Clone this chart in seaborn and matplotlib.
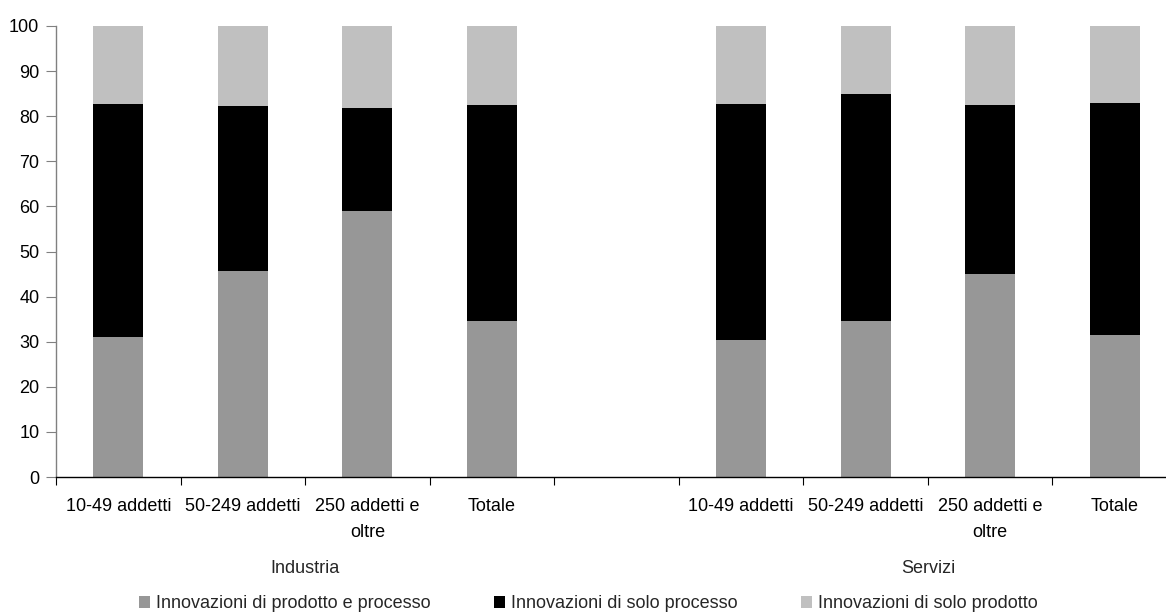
import matplotlib
matplotlib.use("Agg")
import matplotlib.pyplot as plt
import seaborn as sns
import pandas as pd
import numpy as np

# Sectors and firm-size classes
sectors = ["Industria", "Servizi"]
size_classes = ["10-49 addetti", "50-249 addetti", "250 addetti e\noltre", "Totale"]

# Shares (%) of innovating firms by type of innovation
prodotto_e_processo = {
    "Industria": [31.0, 45.7, 59.0, 34.6],
    "Servizi":   [30.4, 34.6, 45.0, 31.5],
}
solo_processo = {
    "Industria": [51.7, 36.6, 22.8, 47.9],
    "Servizi":   [52.3, 50.3, 37.5, 51.4],
}
solo_prodotto = {
    "Industria": [17.3, 17.7, 18.2, 17.5],
    "Servizi":   [17.3, 15.1, 17.5, 17.1],
}

series_names = [
    "Innovazioni di prodotto e processo",
    "Innovazioni di solo processo",
    "Innovazioni di solo prodotto",
]
series_colors = ["#979797", "#000000", "#c0c0c0"]

y_ticks = list(range(0, 101, 10))

# Long table with one row per bar
rows = []
for sec in sectors:
    for i, sc in enumerate(size_classes):
        a = prodotto_e_processo[sec][i]
        b = solo_processo[sec][i]
        c = solo_prodotto[sec][i]
        rows.append({
            "slot": f"{sec}|{sc}",
            "sector": sec,
            "size": sc,
            "lvl1": a,
            "lvl2": a + b,
            "lvl3": a + b + c,
        })
df = pd.DataFrame(rows)

# Slot order: four industry bars, an empty gap, four service bars
order = [f"Industria|{s}" for s in size_classes] + ["__gap__"] + [f"Servizi|{s}" for s in size_classes]

sns.set_theme(style="white")
plt.rcParams["font.family"] = ["Liberation Sans", "DejaVu Sans"]
FS = 13

fig = plt.figure(figsize=(11.66, 6.12), dpi=100)
ax = fig.add_axes([56 / 1166, 135 / 612, 1121 / 1166, 451 / 612])

# Stacked bars: draw cumulative totals from the top layer down
for col, color in zip(["lvl3", "lvl2", "lvl1"], series_colors[::-1]):
    sns.barplot(data=df, x="slot", y=col, order=order, color=color,
                width=0.4, saturation=1, errorbar=None, ax=ax,
                linewidth=0, edgecolor="none")

ax.set_xlim(-0.5, len(order) - 0.5)
ax.set_ylim(0, 100)
ax.set_yticks(y_ticks)
ax.set_yticklabels([str(t) for t in y_ticks], fontsize=FS, color="black")
ax.set_xlabel("")
ax.set_ylabel("")

# Category labels at bar centres, tick marks at slot boundaries
labels = [s.split("|")[1] if "|" in s else "" for s in order]
ax.set_xticks(range(len(order)))
ax.set_xticklabels(labels, fontsize=FS, color="black", linespacing=1.7)
ax.tick_params(axis="x", which="major", length=0, pad=15)
ax.set_xticks(np.arange(-0.5, len(order) + 0.5, 1), minor=True)
ax.tick_params(axis="x", which="minor", length=6, width=0.8, color="#000000", direction="out", bottom=True)
ax.tick_params(axis="y", which="major", length=7, width=0.8, color="#808080", direction="out", pad=5, left=True)

for side in ["top", "right"]:
    ax.spines[side].set_visible(False)
ax.spines["left"].set_color("#808080")
ax.spines["left"].set_linewidth(1.0)
ax.spines["bottom"].set_color("#000000")
ax.spines["bottom"].set_linewidth(1.0)
ax.grid(False)

# Sector labels under each group
trans = ax.get_xaxis_transform()
ax.text(1.5, -0.203, "Industria", transform=trans, ha="center", va="center", fontsize=FS)
ax.text(6.5, -0.203, "Servizi", transform=trans, ha="center", va="center", fontsize=FS)

# Legend along the bottom
handles = [plt.Rectangle((0, 0), 1, 1, facecolor=c, edgecolor="none") for c in series_colors]
fig.legend(handles, series_names, loc="center", bbox_to_anchor=(588 / 1166, 1 - 604 / 612),
           ncol=3, frameon=False, fontsize=FS, handlelength=0.65, handleheight=0.65,
           handletextpad=0.3, columnspacing=3.5, borderaxespad=0, borderpad=0)

fig.savefig("out.png", dpi=100)
